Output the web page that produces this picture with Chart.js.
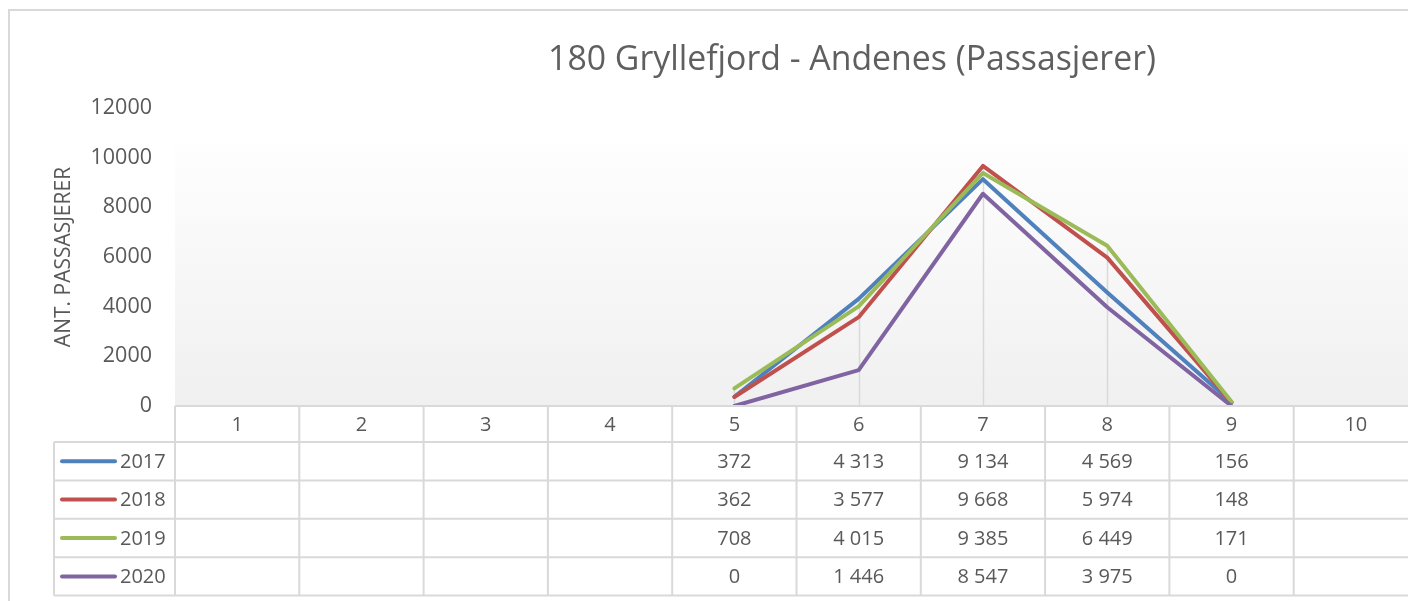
<!DOCTYPE html>
<html>
<head>
<meta charset="utf-8">
<script src="https://cdn.jsdelivr.net/npm/chart.js@4"></script>
<style>
  html, body { margin: 0; padding: 0; background: #fff; overflow: hidden; }
  #wrap { position: relative; width: 1408px; height: 601px; overflow: hidden; }
  #chart { position: absolute; left: 0; top: 0; }
  #title {
    position: absolute; left: 0; top: 36px; width: 1704px;
    text-align: center; white-space: nowrap;
    font: 33.8px "Open Sans", sans-serif; line-height: 42px; color: #5f5f5f;
  }
</style>
</head>
<body>
<div id="wrap">
  <canvas id="chart" width="1440" height="601"></canvas>
  <div id="title">180 Gryllefjord - Andenes (Passasjerer)</div>
</div>
<script>
// Data - passasjerer per måned
const months = ['1', '2', '3', '4', '5', '6', '7', '8', '9', '10'];
const years = ['2017', '2018', '2019', '2020'];
const pax2017 = [null, null, null, null, 372, 4313, 9134, 4569, 156, null];
const pax2018 = [null, null, null, null, 362, 3577, 9668, 5974, 148, null];
const pax2019 = [null, null, null, null, 708, 4015, 9385, 6449, 171, null];
const pax2020 = [null, null, null, null, 0, 1446, 8547, 3975, 0, null];
const yMax = 12000;
const yStep = 2000;

const series = [pax2017, pax2018, pax2019, pax2020];
const colors = ['#4f81bd', '#c0504d', '#9bbb59', '#8064a2'];
const textColor = '#595959';
const gridColor = '#d9d9d9';
const fontFamily = '"Open Sans", sans-serif';

Chart.defaults.font.family = fontFamily;
Chart.defaults.color = textColor;

function formatNum(v) {
    if (v === null || v === undefined) return '';
    return String(v).replace(/\B(?=(\d{3})+(?!\d))/g, ' ');
}

// Chart frame + plot area gradient
const framePlugin = {
    id: 'frame',
    beforeDraw(chart) {
        const ctx = chart.ctx;
        const a = chart.chartArea;
        ctx.save();
        ctx.strokeStyle = gridColor;
        ctx.lineWidth = 2;
        ctx.beginPath();
        ctx.moveTo(9, chart.height);
        ctx.lineTo(9, 10);
        ctx.lineTo(chart.width, 10);
        ctx.stroke();

        const top = a.top + 35;
        const g = ctx.createLinearGradient(0, top, 0, a.bottom);
        g.addColorStop(0, '#fefefe');
        g.addColorStop(1, '#f0f0f0');
        ctx.fillStyle = g;
        ctx.fillRect(a.left, top, a.right - a.left, a.bottom - top);
        ctx.restore();
    }
};

// Drop lines from the points down to the axis
const dropLines = {
    id: 'dropLines',
    beforeDatasetsDraw(chart) {
        const ctx = chart.ctx;
        const xs = chart.scales.x, ys = chart.scales.y;
        ctx.save();
        ctx.strokeStyle = gridColor;
        ctx.lineWidth = 1.5;
        ctx.beginPath();
        months.forEach((m, i) => {
            const vals = series.map(s => s[i]).filter(v => v !== null);
            if (!vals.length) return;
            const px = Math.round(xs.getPixelForValue(i)) + 0.5;
            ctx.moveTo(px, ys.getPixelForValue(Math.max(...vals)));
            ctx.lineTo(px, ys.getPixelForValue(0));
        });
        ctx.stroke();
        ctx.restore();
    }
};

// Data table under the plot
const dataTable = {
    id: 'dataTable',
    afterDraw(chart) {
        const ctx = chart.ctx;
        const a = chart.chartArea;
        const xs = chart.scales.x;
        const colW = xs.getPixelForValue(1) - xs.getPixelForValue(0);
        const headTop = a.bottom;
        const headH = 36;
        const rowH = 38.4;
        const legendLeft = 54;
        const tableBottom = headTop + headH + rowH * years.length;

        ctx.save();
        ctx.strokeStyle = gridColor;
        ctx.lineWidth = 2;
        ctx.beginPath();
        ctx.moveTo(a.left, headTop);
        ctx.lineTo(chart.width, headTop);
        for (let r = 0; r <= years.length; r++) {
            const y = headTop + headH + r * rowH;
            ctx.moveTo(legendLeft, y);
            ctx.lineTo(chart.width, y);
        }
        for (let c = 0; c <= months.length; c++) {
            const x = xs.getPixelForValue(c) - colW / 2;
            ctx.moveTo(x, headTop);
            ctx.lineTo(x, tableBottom);
        }
        ctx.moveTo(legendLeft, headTop + headH);
        ctx.lineTo(legendLeft, tableBottom);
        ctx.stroke();

        ctx.fillStyle = textColor;
        ctx.font = '20px ' + fontFamily;
        ctx.textAlign = 'center';
        ctx.textBaseline = 'middle';
        months.forEach((m, i) => {
            ctx.fillText(m, xs.getPixelForValue(i), headTop + headH / 2 + 1);
        });

        years.forEach((yr, r) => {
            const cy = headTop + headH + r * rowH + rowH / 2;
            ctx.strokeStyle = colors[r];
            ctx.lineWidth = 4;
            ctx.lineCap = 'round';
            ctx.beginPath();
            ctx.moveTo(legendLeft + 8, cy);
            ctx.lineTo(legendLeft + 61, cy);
            ctx.stroke();

            ctx.fillStyle = textColor;
            ctx.textAlign = 'left';
            ctx.fillText(yr, legendLeft + 66, cy + 1);
            ctx.textAlign = 'center';
            series[r].forEach((v, i) => {
                ctx.fillText(formatNum(v), xs.getPixelForValue(i), cy + 1);
            });
        });
        ctx.restore();
    }
};

new Chart(document.getElementById('chart'), {
    type: 'line',
    data: {
        labels: months,
        datasets: years.map((yr, i) => ({
            label: yr,
            data: series[i],
            borderColor: colors[i],
            backgroundColor: colors[i],
            borderWidth: 4,
            pointRadius: 0,
            tension: 0,
            borderCapStyle: 'round',
            borderJoinStyle: 'round',
            order: years.length - i
        }))
    },
    options: {
        responsive: false,
        animation: false,
        layout: { padding: { left: 0, top: 108, right: 22, bottom: 195 } },
        plugins: {
            legend: { display: false },
            title: { display: false },
            tooltip: { enabled: false }
        },
        scales: {
            x: {
                display: false,
                offset: true
            },
            y: {
                min: 0,
                max: yMax,
                grid: { display: false, drawTicks: false },
                border: { display: false },
                ticks: {
                    stepSize: yStep,
                    padding: 23,
                    color: textColor,
                    font: { size: 21.5 },
                    callback: v => String(v)
                },
                title: {
                    display: true,
                    text: 'ANT. PASSASJERER',
                    color: textColor,
                    font: { size: 21 },
                    padding: { top: 51, bottom: 0 }
                },
                afterFit(scale) { scale.width = 175; }
            }
        }
    },
    plugins: [framePlugin, dropLines, dataTable]
});
</script>
</body>
</html>
